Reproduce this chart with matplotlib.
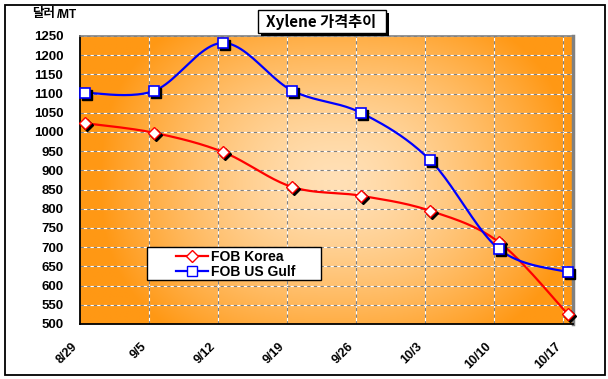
import numpy as np
import matplotlib
matplotlib.use('Agg')
import matplotlib.pyplot as plt
from matplotlib.patches import Rectangle
from matplotlib.transforms import ScaledTranslation

# 데이터 (주간 가격, $/MT)
dates = ['8/29', '9/5', '9/12', '9/19', '9/26', '10/3', '10/10', '10/17']
fob_korea = [1023, 998, 948, 857, 834, 795, 713, 525]
fob_usgulf = [1102, 1107, 1232, 1108, 1050, 927, 695, 635]
y_ticks = list(range(500, 1251, 50))

plt.rcParams['font.family'] = ['Liberation Sans', 'Noto Sans CJK KR', 'DejaVu Sans']

W, H = 608, 379


def fx(px):
    return px / W


def fy(py):
    return 1 - py / H


def smooth(xs, ys, n=24):
    # 엑셀식 부드러운 선 (Catmull-Rom 베지어)
    P = np.column_stack([xs, ys]).astype(float)
    P = np.vstack([P[0], P, P[-1]])
    out = []
    t = np.linspace(0, 1, n)[:, None]
    for i in range(1, len(P) - 2):
        p0, p1, p2, p3 = P[i - 1], P[i], P[i + 1], P[i + 2]
        c1 = p1 + (p2 - p0) / 6
        c2 = p2 - (p3 - p1) / 6
        seg = (1 - t) ** 3 * p1 + 3 * (1 - t) ** 2 * t * c1 + 3 * (1 - t) * t ** 2 * c2 + t ** 3 * p2
        out.append(seg if i == 1 else seg[1:])
    out = np.vstack(out)
    return out[:, 0], out[:, 1]


fig = plt.figure(figsize=(W / 100, H / 100), dpi=100)
ax = fig.add_axes([fx(80), fy(324), (573 - 80) / W, (324 - 36) / H])

# 배경 그라데이션 (가운데 밝게)
gx, gy = np.meshgrid(np.linspace(0, 1, 400), np.linspace(0, 1, 300))
d = (np.abs((gx - 0.52) / 0.48) ** 2.5 + np.abs((gy - 0.5) / 0.64) ** 2.5) ** (1 / 2.5)
d = np.clip(d, 0, 1)
light = np.array([255, 224, 182]) / 255
dark = np.array([255, 152, 20]) / 255
img = light + (dark - light) * d[..., None] ** 1.5
ax.imshow(img, extent=[0, 1, 0, 1], transform=ax.transAxes, aspect='auto',
          origin='lower', zorder=0, interpolation='bilinear')

x_tick = np.arange(len(dates)) * 7
x_pts = x_tick + 0.5
ax.set_xlim(0, 50)
ax.set_ylim(500, 1250)

# 격자선
for v in y_ticks[1:]:
    ax.axhline(v, color='white', lw=0.8, zorder=1)
    ax.axhline(v, color='#808080', lw=0.8, ls=(0, (3, 3)), zorder=1.1)
for v in x_tick[1:]:
    ax.axvline(v, color='white', lw=0.8, zorder=1)
    ax.axvline(v, color='#808080', lw=0.8, ls=(0, (3, 3)), zorder=1.1)

shadow = ax.transData + ScaledTranslation(2 / 100, -2 / 100, fig.dpi_scale_trans)

sx, sy = smooth(x_pts, fob_korea)
ax.plot(sx, sy, color='#FF0000', lw=1.6, zorder=3)
sx, sy = smooth(x_pts, fob_usgulf)
ax.plot(sx, sy, color='#0000FF', lw=1.6, zorder=3)

ax.plot(x_pts, fob_korea, 'D', ms=6, color='black', transform=shadow, zorder=4, clip_on=False)
ax.plot(x_pts, fob_usgulf, 's', ms=6.5, color='black', transform=shadow, zorder=4, clip_on=False)
ax.plot(x_pts, fob_korea, 'D', ms=6, mfc='white', mec='#FF0000', mew=1, zorder=5, clip_on=False)
ax.plot(x_pts, fob_usgulf, 's', ms=6.5, mfc='white', mec='#0000FF', mew=1.2, zorder=5, clip_on=False)

# 범례 상자
ax.add_patch(Rectangle((fx(147), fy(280)), 174 / W, 33 / H, transform=fig.transFigure,
                       facecolor='white', edgecolor='black', lw=1.0, zorder=6, clip_on=False))
hk, = ax.plot([], [], color='#FF0000', lw=1.6, marker='D', ms=6, mfc='white', mec='#FF0000', label='FOB Korea')
hu, = ax.plot([], [], color='#0000FF', lw=1.6, marker='s', ms=6.5, mfc='white', mec='#0000FF', label='FOB US Gulf')
leg = ax.legend(handles=[hk, hu], loc='center', bbox_to_anchor=(fx(236), fy(264.5)),
                bbox_transform=fig.transFigure, frameon=False,
                handlelength=2.3, handletextpad=0.2, borderpad=0, labelspacing=0.05,
                prop={'weight': 'bold', 'size': 10})
leg.set_zorder(7)

ax.set_xticks(x_tick)
ax.set_xticklabels(dates, rotation=45, ha='right', va='top', fontsize=9, fontweight='bold')
ax.set_yticks(y_ticks)
ax.set_yticklabels([str(v) for v in y_ticks], fontsize=9.5, fontweight='bold')
ax.tick_params(axis='both', length=0)
ax.tick_params(axis='y', pad=12)
ax.tick_params(axis='x', pad=12)

ax.spines['left'].set_color('black')
ax.spines['bottom'].set_color('black')
ax.spines['left'].set_linewidth(1.3)
ax.spines['bottom'].set_linewidth(1.3)
ax.spines['top'].set_color('#808080')
ax.spines['top'].set_linewidth(1.2)
ax.spines['right'].set_color('#808080')
ax.spines['right'].set_linewidth(2.5)

# 제목 상자
fig.patches.append(Rectangle((fx(261), fy(36)), 128 / W, 23 / H, transform=fig.transFigure,
                             facecolor='black', edgecolor='none', zorder=1))
fig.patches.append(Rectangle((fx(258), fy(33)), 128 / W, 23 / H, transform=fig.transFigure,
                             facecolor='white', edgecolor='black', lw=1.0, zorder=2))
fig.text(fx(321), fy(22), 'Xylene 가격추이', ha='center', va='center', fontsize=11,
         fontweight='bold', family=['Noto Sans CJK KR', 'DejaVu Sans'], zorder=3)

# 단위
fig.text(fx(32), fy(13), '달러', ha='left', va='center', fontsize=9, fontweight='bold',
         family=['Noto Sans CJK KR', 'DejaVu Sans'])
fig.text(fx(57), fy(15), '/MT', ha='left', va='center', fontsize=8.5, fontweight='bold')

# 바깥 테두리
fig.patches.append(Rectangle((fx(5), fy(375)), 600 / W, 370 / H, transform=fig.transFigure,
                             fill=False, edgecolor='black', lw=1.3))

plt.savefig('out.png', dpi=100)
